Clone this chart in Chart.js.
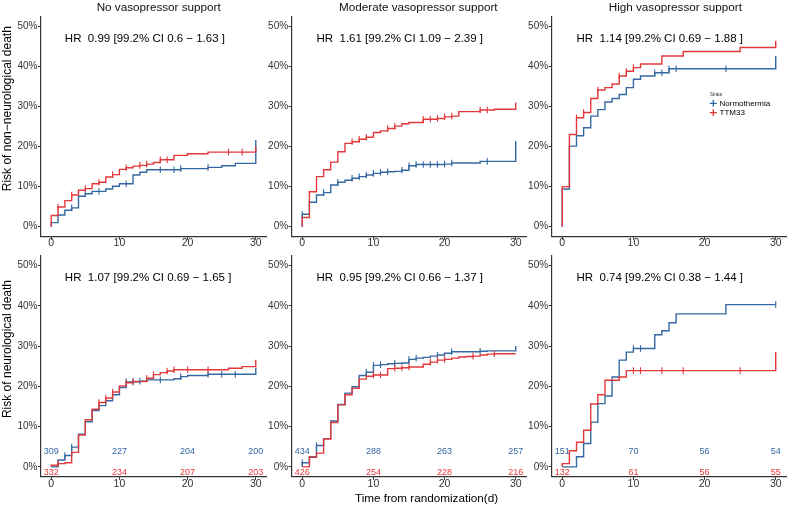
<!DOCTYPE html>
<html>
<head>
<meta charset="utf-8">
<script src="https://cdn.jsdelivr.net/npm/chart.js@4.4.1/dist/chart.umd.min.js"></script>
<style>
html,body{margin:0;padding:0;background:#ffffff;}
body{position:relative;width:787px;height:507px;overflow:hidden;}
.panel{position:absolute;}
.panel canvas{display:block;}
</style>
</head>
<body>
<div class="panel" id="w1"><canvas id="c1"></canvas></div>
<div class="panel" id="w2"><canvas id="c2"></canvas></div>
<div class="panel" id="w3"><canvas id="c3"></canvas></div>
<div class="panel" id="w4"><canvas id="c4"></canvas></div>
<div class="panel" id="w5"><canvas id="c5"></canvas></div>
<div class="panel" id="w6"><canvas id="c6"></canvas></div>
<script>
// ---------------- DATA ----------------
const dayGrid = [0,1,2,3,4,5,6,7,8,9,10,11,12,13,14,15,16,17,18,19,20,21,22,23,24,25,26,27,28,29,30];
const xTicks = [0,10,20,30];
const yTicks = [0,10,20,30,40,50];
const panelTitles = ["No vasopressor support","Moderate vasopressor support","High vasopressor support"];
const rowTitles = ["Risk of non\u2212neurological death","Risk of neurological death"];
const xAxisTitle = "Time from randomization(d)";
const seriesNames = ["Normothermia","TTM33"];
const legendTitle = "Strata";
const hrLabels = [
  "HR  0.99 [99.2% CI 0.6 \u2212 1.63 ]",
  "HR  1.61 [99.2% CI 1.09 \u2212 2.39 ]",
  "HR  1.14 [99.2% CI 0.69 \u2212 1.88 ]",
  "HR  1.07 [99.2% CI 0.69 \u2212 1.65 ]",
  "HR  0.95 [99.2% CI 0.66 \u2212 1.37 ]",
  "HR  0.74 [99.2% CI 0.38 \u2212 1.44 ]"
];
const atRiskDays = [0,10,20,30];

// cumulative risk (%) at each day of dayGrid
const p1Normo = [1.0,2.9,4.1,4.7,7.6,8.2,8.8,8.8,9.4,10.1,10.7,10.7,12.9,13.6,14.2,14.2,14.2,14.2,14.2,14.5,14.5,14.5,14.5,14.8,14.8,15.2,15.2,15.8,15.8,15.8,21.6];
const p1Ttm   = [2.8,4.9,6.5,7.9,9.1,9.5,10.7,11.1,12.4,13.0,14.3,14.7,15.1,15.3,15.6,16.0,16.7,16.7,17.8,17.8,18.2,18.2,18.2,18.6,18.6,18.6,18.6,18.6,18.6,18.6,20.0];
const p1NormoCens = [3,5,7,11,16,18,19,23];
const p1TtmCens   = [1,3,5,7,9,11,13,14,16,17,26,28];

const p2Normo = [3.1,6.1,7.9,8.5,10.4,11.1,11.6,12.1,12.5,12.9,13.3,13.6,13.7,13.8,14.1,15.2,15.5,15.5,15.5,15.5,15.6,15.9,15.9,15.9,15.9,16.3,16.3,16.3,16.3,16.3,21.3];
const p2Ttm   = [2.3,8.7,12.5,14.2,16.1,18.7,20.8,21.2,21.8,22.3,23.5,23.9,24.5,25.1,25.7,26.0,26.0,26.8,26.8,27.0,27.4,27.6,28.7,28.7,28.7,29.1,29.1,29.3,29.3,29.3,31.0];
const p2NormoCens = [0,3,5,7,8,9,10,11,12,14,15,16,17,18,19,20,21,26];
const p2TtmCens   = [7,8,9,12,13,17,18,19,20,21,25,26];

const p3Normo = [9.4,20.1,22.7,24.7,27.6,29.2,31.1,32.0,33.0,34.7,36.8,37.6,37.6,38.4,38.4,39.4,39.4,39.4,39.4,39.4,39.4,39.4,39.4,39.4,39.4,39.4,39.4,39.4,39.4,39.4,42.6];
const p3Ttm   = [10.0,23.0,27.2,28.5,32.0,34.1,34.7,35.6,37.6,38.8,39.7,40.6,40.6,40.6,42.6,42.6,42.6,43.7,43.7,43.7,43.7,43.7,43.7,43.7,43.7,44.7,44.7,44.7,44.7,44.7,46.4];
const p3NormoCens = [13,14,15,16,23];
const p3TtmCens   = [2,3,5,8,9,10];

const p4Normo = [0.0,1.7,2.8,4.9,8.1,11.2,14.0,15.2,16.4,17.9,19.7,21.1,21.1,21.3,21.6,21.6,21.6,21.6,21.9,22.4,22.7,22.7,22.7,23.0,23.0,23.0,23.0,23.0,23.0,23.0,24.6];
const p4Ttm   = [0.4,0.8,1.0,3.6,7.9,11.7,14.3,16.0,17.1,18.6,20.1,20.9,21.2,21.2,22.0,22.9,23.4,23.8,24.1,24.1,24.1,24.1,24.1,24.1,24.1,24.1,24.5,24.5,24.9,24.9,26.6];
const p4NormoCens = [2,3,11,12,13,16,19,23,25,27];
const p4TtmCens   = [1,7,8,9,11,12,14,15,17,18,20,23];
const p4RiskNormo = [309,227,204,200];
const p4RiskTtm   = [332,234,207,203];

const p5Normo = [1.0,2.5,5.3,7.0,11.4,15.5,18.3,19.9,22.7,23.5,25.2,25.4,25.6,25.7,25.8,26.7,27.0,27.2,27.5,27.8,28.2,28.6,28.6,28.6,28.6,28.7,28.8,28.8,28.8,28.8,30.0];
const p5Ttm   = [0.0,2.4,3.4,6.9,11.0,15.4,17.9,19.5,21.8,22.5,22.8,22.8,24.4,24.5,24.6,24.8,24.8,25.5,26.0,26.5,26.7,27.0,27.3,27.4,27.5,27.8,28.0,28.1,28.1,28.1,28.1];
const p5NormoCens = [0,2,9,10,11,13,15,16,19,21,25];
const p5TtmCens   = [10,11,13,14,15,18,19,20,24,27];
const p5RiskNormo = [434,288,263,257];
const p5RiskTtm   = [426,254,228,216];

const p6Normo = [0.0,0.0,2.5,5.8,11.1,15.7,17.6,22.3,26.5,28.5,29.4,29.4,29.4,32.8,33.8,35.8,38.0,38.0,38.0,38.0,38.0,38.0,38.0,40.3,40.3,40.3,40.3,40.3,40.3,40.3,40.3];
const p6Ttm   = [0.8,4.0,6.1,9.1,15.6,17.9,21.5,21.5,22.3,23.9,23.9,23.9,23.9,23.9,23.9,23.9,23.9,23.9,23.9,23.9,23.9,23.9,23.9,23.9,23.9,23.9,23.9,23.9,23.9,23.9,28.5];
const p6NormoCens = [10,11,30];
const p6TtmCens   = [10,11,14,17,25];
const p6RiskNormo = [151,70,56,54];
const p6RiskTtm   = [132,61,56,55];

// ---------------- STYLE / LAYOUT ----------------
const FONT = '"Liberation Sans", Arial, Helvetica, sans-serif';
const BLUE = '#3468a1';
const RED = '#e3383b';
const AXIS = '#333333';
const HR_DAY = 2, HR_RISK = 47;
const RISK_ROW_NORMO = 3.8, RISK_ROW_TTM = -1.4;

const geo = [
  {left:0,   top:0,   w:267, h:250, yw:41,   xh:13.3, pt:16.3, pr:1.0, titleX:158.7},
  {left:262, top:0,   w:266, h:250, yw:29.6, xh:13.3, pt:16.3, pr:1.6, titleX:156.3},
  {left:522, top:0,   w:265, h:250, yw:29.6, xh:13.3, pt:16.3, pr:0.6, titleX:153.3},
  {left:0,   top:250, w:267, h:257, yw:41,   xh:30.1, pt:3.1,  pr:1.0},
  {left:262, top:250, w:266, h:257, yw:29.6, xh:30.1, pt:3.1,  pr:1.6},
  {left:522, top:250, w:265, h:257, yw:29.6, xh:30.1, pt:3.1,  pr:0.6}
];

const panels = [
  {normo:p1Normo, ttm:p1Ttm, nc:p1NormoCens, tc:p1TtmCens, hr:hrLabels[0], title:panelTitles[0], yTitle:rowTitles[0], yTitleX:7.7, yTitleY:108.7},
  {normo:p2Normo, ttm:p2Ttm, nc:p2NormoCens, tc:p2TtmCens, hr:hrLabels[1], title:panelTitles[1]},
  {normo:p3Normo, ttm:p3Ttm, nc:p3NormoCens, tc:p3TtmCens, hr:hrLabels[2], title:panelTitles[2], legend:true},
  {normo:p4Normo, ttm:p4Ttm, nc:p4NormoCens, tc:p4TtmCens, hr:hrLabels[3], riskN:p4RiskNormo, riskT:p4RiskTtm, yTitle:rowTitles[1], yTitleX:7.7, yTitleY:99},
  {normo:p5Normo, ttm:p5Ttm, nc:p5NormoCens, tc:p5TtmCens, hr:hrLabels[4], riskN:p5RiskNormo, riskT:p5RiskTtm, xTitle:xAxisTitle, xTitleX:164.5, xTitleY:248.3},
  {normo:p6Normo, ttm:p6Ttm, nc:p6NormoCens, tc:p6TtmCens, hr:hrLabels[5], riskN:p6RiskNormo, riskT:p6RiskTtm}
];

function curve(vals){
  const pts = [{x:dayGrid[0], y:0}];
  dayGrid.forEach((d,i)=>pts.push({x:d, y:vals[i]}));
  return pts;
}
function cens(days, vals){
  return days.map(d=>({x:d, y:vals[dayGrid.indexOf(Math.floor(d))]}));
}

const textPlugin = {
  id: 'kmText',
  afterDatasetsDraw(chart, args, o) {
    const ctx = chart.ctx, xs = chart.scales.x, ys = chart.scales.y;
    ctx.save();
    ctx.textBaseline = 'middle';
    if (o.title) {
      ctx.font = '11.7px ' + FONT; ctx.fillStyle = '#111'; ctx.textAlign = 'center';
      ctx.fillText(o.title, o.titleX, 7.3);
    }
    ctx.font = '11.5px ' + FONT; ctx.fillStyle = '#000'; ctx.textAlign = 'left';
    ctx.fillText(o.hr, xs.getPixelForValue(HR_DAY), ys.getPixelForValue(HR_RISK));
    if (o.riskN) {
      ctx.font = '9px ' + FONT; ctx.textAlign = 'center';
      atRiskDays.forEach((d,i)=>{
        ctx.fillStyle = BLUE;
        ctx.fillText(String(o.riskN[i]), xs.getPixelForValue(d), ys.getPixelForValue(RISK_ROW_NORMO));
        ctx.fillStyle = RED;
        ctx.fillText(String(o.riskT[i]), xs.getPixelForValue(d), ys.getPixelForValue(RISK_ROW_TTM));
      });
    }
    if (o.yTitle) {
      ctx.save();
      ctx.translate(o.yTitleX, o.yTitleY);
      ctx.rotate(-Math.PI/2);
      ctx.font = '12px ' + FONT; ctx.fillStyle = '#000'; ctx.textAlign = 'center';
      ctx.fillText(o.yTitle, 0, 0);
      ctx.restore();
    }
    if (o.xTitle) {
      ctx.font = '11.7px ' + FONT; ctx.fillStyle = '#000'; ctx.textAlign = 'center';
      ctx.fillText(o.xTitle, o.xTitleX, o.xTitleY);
    }
    if (o.legend) {
      ctx.textAlign = 'left';
      ctx.font = '4.5px ' + FONT; ctx.fillStyle = '#333';
      ctx.fillText(legendTitle, 188, 94.3);
      const items = [[seriesNames[0], BLUE, 103.3],[seriesNames[1], RED, 112.7]];
      items.forEach(([name,col,y])=>{
        ctx.strokeStyle = col; ctx.lineWidth = 1.3;
        ctx.beginPath();
        ctx.moveTo(187.8, y); ctx.lineTo(194.8, y);
        ctx.moveTo(191.3, y-3.5); ctx.lineTo(191.3, y+3.5);
        ctx.stroke();
        ctx.font = '8px ' + FONT; ctx.fillStyle = '#000';
        ctx.fillText(name, 197.5, y);
      });
    }
    ctx.restore();
  }
};

panels.forEach((p, i) => {
  const g = geo[i];
  const wrap = document.getElementById('w' + (i+1));
  wrap.style.left = g.left + 'px'; wrap.style.top = g.top + 'px';
  wrap.style.width = g.w + 'px'; wrap.style.height = g.h + 'px';
  const opts = Object.assign({}, p, {titleX: g.titleX});
  new Chart(document.getElementById('c' + (i+1)), {
    type: 'line',
    data: {
      datasets: [
        {type:'line', label:seriesNames[0], data:curve(p.normo), stepped:true, borderColor:BLUE, borderWidth:1.4, pointRadius:0, fill:false, order:3},
        {type:'line', label:seriesNames[1], data:curve(p.ttm), stepped:true, borderColor:RED, borderWidth:1.4, pointRadius:0, fill:false, order:2},
        {type:'scatter', label:seriesNames[0]+' censor', data:cens(p.nc, p.normo), pointStyle:'line', rotation:90, radius:3.3, borderWidth:1.1, borderColor:BLUE, backgroundColor:BLUE, order:1},
        {type:'scatter', label:seriesNames[1]+' censor', data:cens(p.tc, p.ttm), pointStyle:'line', rotation:90, radius:3.3, borderWidth:1.1, borderColor:RED, backgroundColor:RED, order:0}
      ]
    },
    options: {
      responsive: true,
      maintainAspectRatio: false,
      animation: false,
      events: [],
      devicePixelRatio: 1,
      layout: {autoPadding:false, padding:{top:g.pt, right:g.pr, left:0, bottom:0}},
      plugins: {legend:{display:false}, tooltip:{enabled:false}, title:{display:false}, kmText: opts},
      scales: {
        x: {
          type:'linear', min:-1.5, max:31.5,
          afterBuildTicks: s => { s.ticks = xTicks.map(v=>({value:v})); },
          afterFit: s => { s.height = g.xh; },
          grid: {display:true, drawOnChartArea:false, drawTicks:true, tickLength:3, color:AXIS, tickColor:AXIS, lineWidth:1},
          border: {display:true, color:AXIS, width:1.2},
          ticks: {font:{size:10.5, family:FONT, lineHeight:1}, color:'#333', padding:-1.5, maxRotation:0, autoSkip:false}
        },
        y: {
          type:'linear', min:-2.5, max:52.5,
          afterBuildTicks: s => { s.ticks = yTicks.map(v=>({value:v})); },
          afterFit: s => { s.width = g.yw; },
          grid: {display:true, drawOnChartArea:false, drawTicks:true, tickLength:3, color:AXIS, tickColor:AXIS, lineWidth:1},
          border: {display:true, color:AXIS, width:1.2},
          ticks: {font:{size:10, family:FONT, lineHeight:1}, color:'#333', padding:0.5, autoSkip:false, callback: v => v + '%'}
        }
      }
    },
    plugins: [textPlugin]
  });
});
</script>
</body>
</html>
